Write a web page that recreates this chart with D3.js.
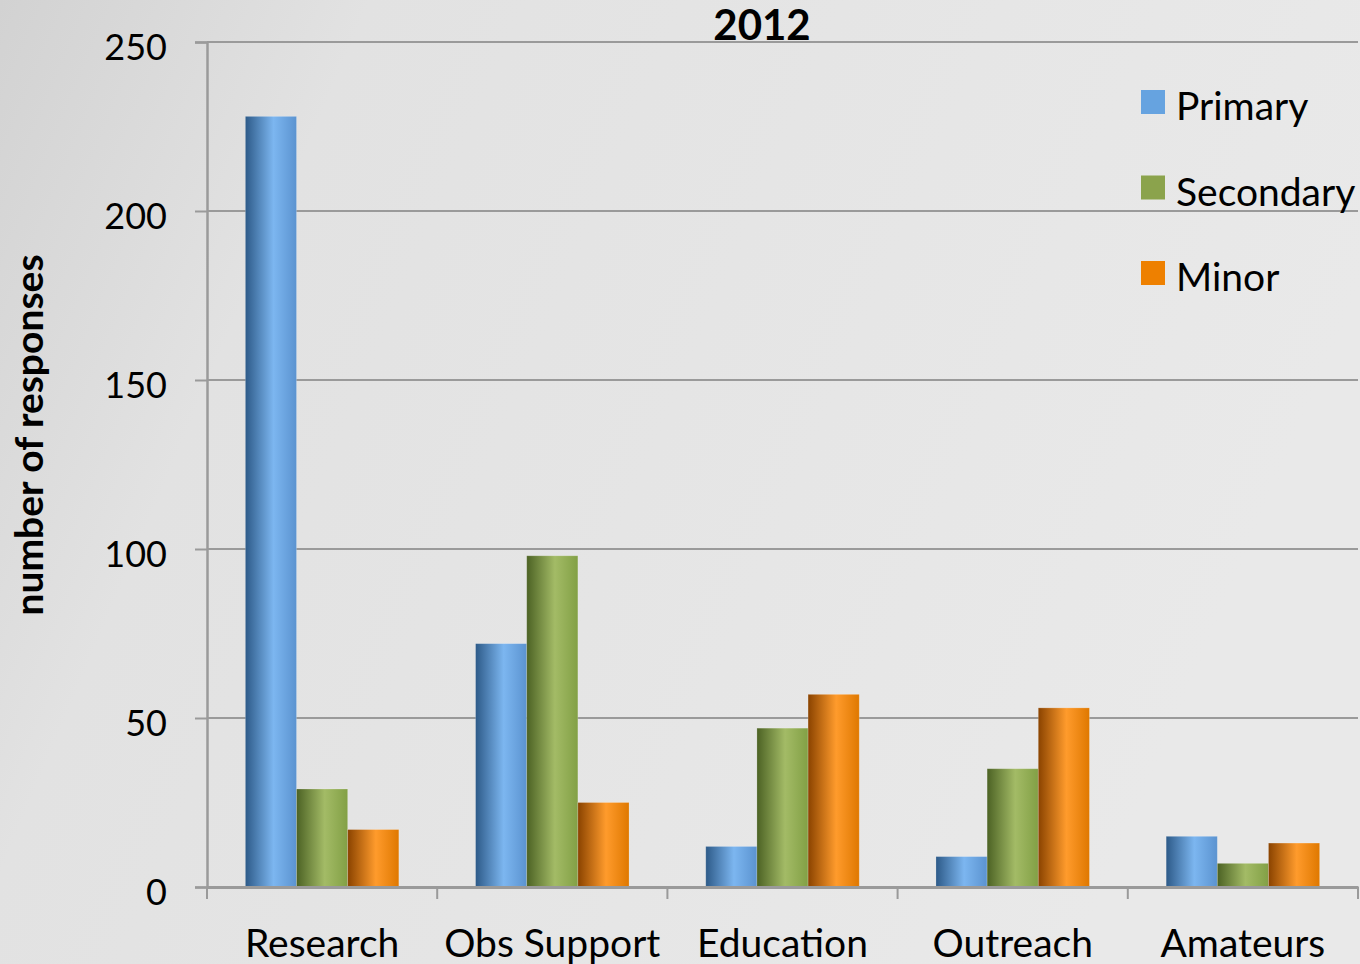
<!DOCTYPE html>
<html><head><meta charset="utf-8">
<script src="https://cdn.jsdelivr.net/npm/d3@7"></script>
<style>html,body{margin:0;padding:0;overflow:hidden;}svg{display:block;}</style>
</head><body>
<svg id="c" width="1360" height="964"></svg>
<script>
const categories = ["Research", "Obs Support", "Education", "Outreach", "Amateurs"];
const seriesNames = ["Primary", "Secondary", "Minor"];
const primary = [228, 72, 12, 9, 15];
const secondary = [29, 98, 47, 35, 7];
const minor = [17, 25, 57, 53, 13];
const yTicks = [0, 50, 100, 150, 200, 250];
const title = "2012";
const yTitle = "number of responses";

const seriesValues = [primary, secondary, minor];
const svg = d3.select("#c");
const W = 1360, H = 964;
const m = {left: 207, right: 1358, top: 42, bottom: 887};
const font = "Lato, 'Open Sans', sans-serif";

const defs = svg.append("defs");
const bg = defs.append("linearGradient").attr("id","bg").attr("x1","0").attr("y1","0").attr("x2","1").attr("y2","0.3");
bg.append("stop").attr("offset","0").attr("stop-color","#d2d2d2");
bg.append("stop").attr("offset","0.25").attr("stop-color","#e2e2e2");
bg.append("stop").attr("offset","1").attr("stop-color","#e9e9e9");
svg.append("rect").attr("width",W).attr("height",H).attr("fill","url(#bg)");

const grads = [
  ["#2d5a88", "#7cb6f0", "#5b93d0"],
  ["#4c6224", "#a3bb66", "#82a045"],
  ["#8a4300", "#ff9b2c", "#df7800"]
];
grads.forEach((g, i) => {
  const lg = defs.append("linearGradient").attr("id","g"+i).attr("x1","0").attr("x2","1").attr("y1","0").attr("y2","0");
  lg.append("stop").attr("offset","0").attr("stop-color",g[0]);
  lg.append("stop").attr("offset","0.55").attr("stop-color",g[1]);
  lg.append("stop").attr("offset","1").attr("stop-color",g[2]);
});
const legendColors = ["#66a3e0", "#8ba34c", "#ee8000"];

const x = d3.scaleBand().domain(categories).range([m.left, m.right]).paddingInner(0).paddingOuter(0);
const xs = d3.scaleBand().domain(seriesNames).range([x.bandwidth()/6, x.bandwidth()*5/6]).padding(0);
const y = d3.scaleLinear().domain([0, 250]).range([m.bottom, m.top]);

// gridlines
svg.append("g").selectAll("line").data(yTicks.filter(d => d > 0)).join("line")
  .attr("x1", m.left).attr("x2", m.right)
  .attr("y1", d => y(d)).attr("y2", d => y(d))
  .attr("stroke", "#9a9a9a").attr("stroke-width", 2);

// y axis
const yAxis = svg.append("g").attr("transform", `translate(${m.left},0)`)
  .call(d3.axisLeft(y).tickValues(yTicks).tickSize(12).tickPadding(28));
yAxis.select(".domain").attr("stroke","#9a9a9a").attr("stroke-width",2.5);
yAxis.selectAll(".tick line").attr("stroke","#9a9a9a").attr("stroke-width",2);
yAxis.selectAll("text").attr("font-family", font).attr("font-size", 36).attr("fill","#000").attr("dy","0.48em");

// bars
const groups = svg.append("g").selectAll("g").data(categories).join("g")
  .attr("transform", d => `translate(${x(d)},0)`);
groups.selectAll("rect").data((c, ci) => seriesNames.map((s, si) => ({s, si, v: seriesValues[si][ci]}))).join("rect")
  .attr("x", d => xs(d.s)).attr("width", xs.bandwidth())
  .attr("y", d => y(d.v)).attr("height", d => y(0) - y(d.v))
  .attr("fill", d => `url(#g${d.si})`)
  .attr("stroke", "rgba(255,255,255,0.25)").attr("stroke-width", 0.8);

// x axis
const xAxis = svg.append("g").attr("transform", `translate(0,${m.bottom})`)
  .call(d3.axisBottom(x).tickSize(0).tickPadding(0));
xAxis.select(".domain").attr("stroke","#9a9a9a").attr("stroke-width",3);
xAxis.selectAll("text").attr("font-family", font).attr("font-size", 39).attr("fill","#000")
  .attr("y", 70).attr("dy", null);
const boundaries = categories.map(c => x(c)).concat([m.right]);
svg.append("g").selectAll("line").data(boundaries).join("line")
  .attr("x1", d => d).attr("x2", d => d).attr("y1", m.bottom).attr("y2", m.bottom + 12)
  .attr("stroke", "#9a9a9a").attr("stroke-width", 2);

// title
svg.append("text").attr("x", 762).attr("y", 40).attr("text-anchor","middle")
  .attr("font-family", font).attr("font-weight","bold").attr("font-size", 42).text(title);

// y title
svg.append("text").attr("transform", "translate(43,435) rotate(-90)").attr("text-anchor","middle")
  .attr("font-family", font).attr("font-weight","bold").attr("font-size", 39).text(yTitle);

// legend
const lg = svg.append("g").attr("transform","translate(1141,90)");
const li = lg.selectAll("g").data(seriesNames).join("g").attr("transform", (d,i) => `translate(0,${i*85.5})`);
li.append("rect").attr("width",24).attr("height",24).attr("fill",(d,i)=>legendColors[i]);
li.append("text").attr("x",35).attr("y",30).attr("font-family",font).attr("font-size",39).text(d=>d);
</script>
</body></html>
